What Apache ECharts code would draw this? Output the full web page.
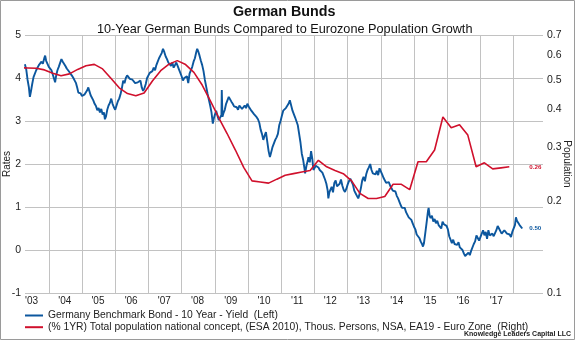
<!DOCTYPE html>
<html>
<head>
<meta charset="utf-8">
<script src="https://cdn.jsdelivr.net/npm/echarts@6/dist/echarts.min.js"></script>
<style>
html,body{margin:0;padding:0;background:#fff;}
#chart{width:575px;height:340px;}
</style>
</head>
<body>
<div id="chart"></div>
<script>
// ---- data (decimal years) ----
const bondYield = [
[2003.28,4.32],[2003.32,4.20],[2003.36,3.96],[2003.40,3.78],[2003.43,3.56],[2003.46,3.68],[2003.50,3.86],[2003.54,4.02],[2003.58,3.98],[2003.62,4.18],[2003.66,4.22],[2003.70,4.30],[2003.74,4.26],[2003.78,4.38],[2003.82,4.33],[2003.86,4.45],[2003.89,4.52],[2003.92,4.40],[2003.96,4.36],
[2004.00,4.26],[2004.04,4.30],[2004.08,4.18],[2004.12,4.08],[2004.16,4.12],[2004.19,3.90],[2004.22,4.05],[2004.26,4.18],[2004.30,4.26],[2004.34,4.30],[2004.38,4.44],[2004.42,4.38],[2004.46,4.34],[2004.50,4.28],[2004.54,4.22],[2004.58,4.26],[2004.62,4.14],[2004.66,4.12],[2004.70,4.05],[2004.74,4.00],[2004.78,3.94],[2004.82,3.88],[2004.86,3.76],[2004.89,3.66],[2004.92,3.70],[2004.96,3.64],
[2005.00,3.58],[2005.04,3.55],[2005.08,3.62],[2005.12,3.60],[2005.16,3.72],[2005.19,3.78],[2005.22,3.70],[2005.26,3.60],[2005.30,3.64],[2005.34,3.48],[2005.38,3.40],[2005.42,3.35],[2005.46,3.25],[2005.50,3.30],[2005.54,3.20],[2005.58,3.28],[2005.62,3.15],[2005.66,3.20],[2005.69,3.04],[2005.72,3.10],[2005.76,3.26],[2005.80,3.36],[2005.84,3.42],[2005.88,3.52],[2005.92,3.40],[2005.96,3.32],
[2006.00,3.26],[2006.04,3.36],[2006.08,3.46],[2006.12,3.52],[2006.16,3.62],[2006.20,3.76],[2006.24,3.94],[2006.28,3.88],[2006.32,4.00],[2006.36,4.06],[2006.40,4.10],[2006.44,3.98],[2006.48,4.02],[2006.52,3.96],[2006.56,3.92],[2006.60,3.88],[2006.64,3.84],[2006.68,3.90],[2006.72,3.86],[2006.76,3.94],[2006.80,3.78],[2006.84,3.70],[2006.88,3.76],[2006.92,3.86],[2006.96,4.00],
[2007.00,4.02],[2007.04,4.12],[2007.08,4.08],[2007.12,4.16],[2007.16,4.24],[2007.20,4.18],[2007.24,4.30],[2007.28,4.38],[2007.32,4.46],[2007.36,4.52],[2007.40,4.58],[2007.44,4.68],[2007.48,4.60],[2007.52,4.50],[2007.56,4.44],[2007.60,4.36],[2007.64,4.32],[2007.68,4.28],[2007.72,4.36],[2007.76,4.24],[2007.80,4.30],[2007.84,4.36],[2007.88,4.28],[2007.92,4.20],[2007.96,4.16],
[2008.00,4.04],[2008.04,3.94],[2008.08,4.00],[2008.12,3.96],[2008.16,4.04],[2008.20,3.88],[2008.24,4.10],[2008.28,4.14],[2008.32,4.26],[2008.36,4.38],[2008.40,4.46],[2008.44,4.60],[2008.47,4.68],[2008.50,4.62],[2008.54,4.52],[2008.58,4.40],[2008.62,4.30],[2008.66,4.16],[2008.70,3.96],[2008.74,3.80],[2008.78,3.64],[2008.82,3.50],[2008.86,3.36],[2008.90,3.20],[2008.94,2.94],[2008.97,3.06],
[2009.00,3.14],[2009.04,3.24],[2009.08,3.12],[2009.12,3.02],[2009.16,2.98],[2009.20,3.14],[2009.21,3.72],[2009.23,3.10],[2009.26,3.18],[2009.30,3.26],[2009.34,3.40],[2009.38,3.48],[2009.42,3.56],[2009.46,3.60],[2009.50,3.45],[2009.54,3.40],[2009.58,3.34],[2009.62,3.30],[2009.66,3.32],[2009.70,3.26],[2009.74,3.36],[2009.78,3.40],[2009.82,3.28],[2009.86,3.24],[2009.90,3.36],[2009.94,3.30],[2009.98,3.40],
[2010.02,3.34],[2010.06,3.30],[2010.10,3.24],[2010.14,3.20],[2010.18,3.16],[2010.22,3.14],[2010.26,3.09],[2010.30,3.04],[2010.34,2.96],[2010.38,2.80],[2010.42,2.70],[2010.46,2.56],[2010.50,2.66],[2010.54,2.74],[2010.58,2.52],[2010.62,2.30],[2010.66,2.16],[2010.70,2.28],[2010.74,2.40],[2010.78,2.44],[2010.82,2.56],[2010.86,2.62],[2010.90,2.70],[2010.94,2.90],[2010.98,3.00],
[2011.02,3.12],[2011.06,3.24],[2011.10,3.20],[2011.14,3.30],[2011.18,3.34],[2011.22,3.40],[2011.26,3.48],[2011.30,3.36],[2011.34,3.24],[2011.38,3.16],[2011.42,3.08],[2011.46,3.10],[2011.50,2.90],[2011.54,2.70],[2011.58,2.50],[2011.62,2.24],[2011.66,2.10],[2011.70,1.90],[2011.72,1.78],[2011.76,1.96],[2011.80,2.08],[2011.82,2.16],[2011.86,2.04],[2011.90,2.30],[2011.94,2.10],[2011.97,1.86],
[2012.00,1.90],[2012.04,1.96],[2012.08,2.00],[2012.12,1.92],[2012.16,1.86],[2012.20,1.90],[2012.24,1.80],[2012.28,1.76],[2012.32,1.64],[2012.36,1.54],[2012.40,1.38],[2012.42,1.20],[2012.45,1.34],[2012.48,1.40],[2012.52,1.47],[2012.56,1.34],[2012.60,1.56],[2012.64,1.62],[2012.68,1.48],[2012.72,1.50],[2012.76,1.54],[2012.80,1.64],[2012.84,1.50],[2012.88,1.40],[2012.92,1.35],[2012.96,1.42],
[2013.00,1.52],[2013.04,1.60],[2013.08,1.66],[2013.12,1.70],[2013.16,1.52],[2013.20,1.38],[2013.24,1.32],[2013.28,1.26],[2013.32,1.20],[2013.36,1.30],[2013.40,1.44],[2013.44,1.62],[2013.48,1.70],[2013.52,1.60],[2013.56,1.76],[2013.60,1.86],[2013.64,1.92],[2013.68,2.00],[2013.72,1.86],[2013.76,1.78],[2013.80,1.82],[2013.84,1.76],[2013.88,1.84],[2013.92,1.74],[2013.96,1.90],
[2014.00,1.94],[2014.04,1.76],[2014.08,1.68],[2014.12,1.64],[2014.16,1.56],[2014.20,1.54],[2014.24,1.58],[2014.28,1.50],[2014.32,1.48],[2014.36,1.38],[2014.40,1.40],[2014.44,1.36],[2014.48,1.26],[2014.52,1.20],[2014.56,1.12],[2014.60,1.04],[2014.64,0.98],[2014.68,0.94],[2014.72,0.98],[2014.76,0.88],[2014.80,0.84],[2014.84,0.76],[2014.88,0.80],[2014.92,0.70],[2014.96,0.62],
[2015.00,0.54],[2015.04,0.48],[2015.08,0.36],[2015.12,0.32],[2015.16,0.28],[2015.20,0.20],[2015.24,0.14],[2015.27,0.08],[2015.30,0.16],[2015.34,0.40],[2015.38,0.64],[2015.42,0.90],[2015.44,0.98],[2015.47,0.80],[2015.50,0.74],[2015.54,0.80],[2015.58,0.66],[2015.62,0.72],[2015.66,0.62],[2015.70,0.68],[2015.74,0.58],[2015.78,0.54],[2015.82,0.50],[2015.86,0.66],[2015.90,0.60],[2015.94,0.64],[2015.98,0.56],
[2016.02,0.48],[2016.06,0.32],[2016.10,0.24],[2016.14,0.16],[2016.18,0.24],[2016.22,0.14],[2016.26,0.18],[2016.30,0.12],[2016.34,0.18],[2016.38,0.06],[2016.42,0.04],[2016.46,0.00],[2016.50,-0.08],[2016.54,-0.14],[2016.57,-0.17],[2016.60,-0.10],[2016.64,-0.06],[2016.68,-0.12],[2016.72,-0.02],[2016.76,0.02],[2016.80,0.14],[2016.84,0.20],[2016.88,0.34],[2016.92,0.28],[2016.96,0.22],
[2017.00,0.20],[2017.04,0.38],[2017.08,0.46],[2017.12,0.34],[2017.16,0.42],[2017.20,0.26],[2017.24,0.46],[2017.28,0.34],[2017.32,0.30],[2017.36,0.38],[2017.40,0.32],[2017.44,0.28],[2017.48,0.46],[2017.52,0.56],[2017.56,0.50],[2017.60,0.44],[2017.64,0.38],[2017.68,0.40],[2017.72,0.46],[2017.76,0.44],[2017.80,0.38],[2017.84,0.42],[2017.88,0.36],[2017.92,0.30],[2017.96,0.42],
[2018.00,0.46],[2018.04,0.58],[2018.07,0.76],[2018.10,0.68],[2018.14,0.64],[2018.18,0.58],[2018.22,0.54],[2018.26,0.50]
];
const popDates = [2003.12,2003.37,2003.62,2003.87,2004.12,2004.37,2004.62,2004.87,2005.12,2005.37,2005.62,2005.87,2006.12,2006.37,2006.62,2006.87,2007.12,2007.37,2007.62,2007.87,2008.12,2008.37,2008.62,2008.87,2009.12,2009.37,2009.62,2009.87,2010.12,2010.37,2010.62,2010.87,2011.12,2011.37,2011.62,2011.87,2012.12,2012.37,2012.62,2012.87,2013.12,2013.37,2013.62,2013.87,2014.12,2014.37,2014.62,2014.87,2015.12,2015.37,2015.62,2015.87,2016.12,2016.37,2016.62,2016.87,2017.12,2017.37,2017.62,2017.87];
const popGrowth = [0.547,0.546,0.545,0.538,0.525,0.515,0.522,0.540,0.555,0.561,0.542,0.505,0.470,0.450,0.443,0.452,0.495,0.535,0.562,0.577,0.560,0.528,0.480,0.425,0.375,0.333,0.294,0.258,0.233,0.231,0.229,0.236,0.243,0.246,0.249,0.252,0.272,0.259,0.252,0.246,0.233,0.212,0.204,0.204,0.207,0.227,0.227,0.218,0.269,0.269,0.294,0.377,0.348,0.356,0.329,0.259,0.267,0.255,0.257,0.259];
const gridYears = [2004,2005,2006,2007,2008,2009,2010,2011,2012,2013,2014,2015,2016,2017,2018];
const labelYears = [2003,2004,2005,2006,2007,2008,2009,2010,2011,2012,2013,2014,2015,2016,2017];
const rateTicks = [-1,0,1,2,3,4,5];
const popTicks = [0.1,0.2,0.3,0.4,0.5,0.6,0.7];
const names = ['Germany Benchmark Bond - 10 Year - Yield  (Left)',
  '(% 1YR) Total population national concept, (ESA 2010), Thous. Persons, NSA, EA19 - Euro Zone  (Right)'];

const BLUE = '#0c579e', RED = '#d0102c', GRID = '#c2c2c2', TXT = '#222';
const FONT = 'Liberation Sans, Arial, sans-serif';
const X_MIN = 2003.283, X_MAX = 2018.885;

const chart = echarts.init(document.getElementById('chart'), null, {renderer:'canvas'});
chart.setOption({
  animation: false,
  title: [
    {text:'German Bunds', left:233, top:5.5, padding:0, textStyle:{fontSize:14.3, fontWeight:'bold', color:'#111', fontFamily:FONT}},
    {text:'10-Year German Bunds Compared to Eurozone Population Growth', left:97, top:22.8, padding:0, textStyle:{fontSize:12.7, fontWeight:'normal', color:'#111', fontFamily:FONT}},
    {text:'Knowledge Leaders Capital LLC', right:4, top:331, padding:0, textStyle:{fontSize:7, fontWeight:'bold', color:'#222', fontFamily:FONT}}
  ],
  graphic: [{type:'rect', silent:true, shape:{x:0.5,y:0.5,width:574,height:339}, style:{fill:'none', stroke:'#9a9a9a', lineWidth:1}}],
  legend: {
    data: names, orient:'vertical', left:25, top:310.5, itemGap:1.7, padding:0,
    icon:'rect', itemWidth:18, itemHeight:2,
    textStyle:{fontSize:10.3, color:TXT, fontFamily:FONT}
  },
  grid: {left:25, right:32, top:35, bottom:47, containLabel:false, outerBoundsMode:'none'},
  xAxis: {
    type:'value', min:X_MIN, max:X_MAX,
    axisLine:{show:false},
    axisTick:{show:false, customValues: gridYears},
    splitLine:{show:true, lineStyle:{color:GRID, width:1}},
    axisLabel:{customValues: labelYears.map(y => y + 0.48), formatter: v => "'" + String(Math.floor(v)).slice(2),
      fontSize:10, color:TXT, margin:3, fontFamily:FONT}
  },
  yAxis: [
    {type:'value', min:rateTicks[0], max:rateTicks[rateTicks.length-1], interval:1,
     name:'Rates', nameLocation:'middle', nameGap:13, nameRotate:90, nameMoveOverlap:false,
     nameTextStyle:{fontSize:10, color:TXT, fontFamily:FONT},
     axisLine:{show:false}, axisTick:{show:false},
     splitLine:{show:true, lineStyle:{color:GRID, width:1}},
     axisLabel:{fontSize:10.5, color:TXT, margin:4, fontFamily:FONT}},
    {type:'value', position:'right', min:Math.log10(popTicks[0]), max:Math.log10(popTicks[popTicks.length-1]),
     name:'Population', nameLocation:'middle', nameGap:19, nameRotate:-90, nameMoveOverlap:false,
     nameTextStyle:{fontSize:10, color:TXT, fontFamily:FONT},
     axisLine:{show:false}, axisTick:{show:false}, splitLine:{show:false},
     axisLabel:{customValues: popTicks.map(v => Math.log10(v)), formatter: v => Math.pow(10, v).toFixed(1),
       fontSize:10.5, color:TXT, margin:4, fontFamily:FONT}}
  ],
  series: [
    {name:names[0], type:'line', xAxisIndex:0, yAxisIndex:0, data:bondYield, showSymbol:false, symbol:'none',
     lineStyle:{color:BLUE, width:1.9}, itemStyle:{color:BLUE}, z:2,
     endLabel:{show:true, distance:7, formatter: p => p.value[1].toFixed(2), fontSize:6.2, fontWeight:'bold', color:BLUE}},
    {name:names[1], type:'line', xAxisIndex:0, yAxisIndex:1,
     data: popDates.map((t, i) => [t, Math.log10(popGrowth[i])]), showSymbol:false, symbol:'none',
     lineStyle:{color:RED, width:1.6}, itemStyle:{color:RED}, z:3,
     endLabel:{show:true, distance:20, formatter: p => Math.pow(10, p.value[1]).toFixed(2), fontSize:6.2, fontWeight:'bold', color:RED}}
  ]
});
</script>
</body>
</html>
